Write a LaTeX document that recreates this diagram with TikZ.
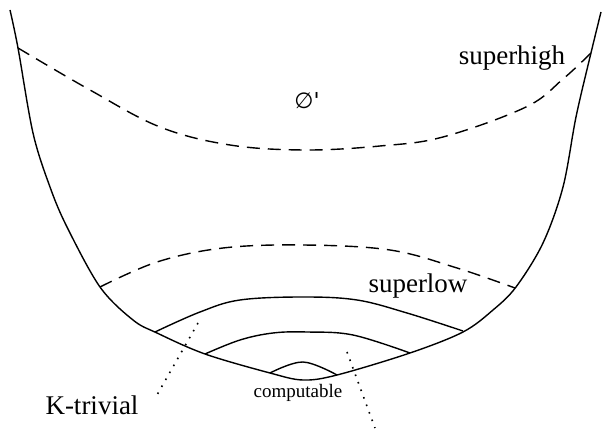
\documentclass[tikz,border=0pt]{standalone}
\usepackage{fontspec}
\setmainfont{Liberation Serif}
\newfontfamily\timesfont{Liberation Serif}
\newfontfamily\symfont{DejaVu Sans}
\begin{document}
\begin{tikzpicture}[x=1pt,y=-1pt,
  outline/.style={line width=1.4pt, line join=round},
  dashline/.style={line width=1.4pt, dash pattern=on 13pt off 8pt},
  dotline/.style={line width=1.6pt, dash pattern=on 1.6pt off 6.4pt},
  biglabel/.style={font=\timesfont\fontsize{27}{30}\selectfont, inner sep=0pt, anchor=base},
  smalllabel/.style={font=\timesfont\fontsize{19}{22}\selectfont, inner sep=0pt, anchor=base}]
\useasboundingbox (0,0) rectangle (603,430);
% outer curve
\draw[outline] plot[smooth, tension=0.55] coordinates {(10,10) (18,48) (33,133) (50,187) (67,227) (100,287) (133,320) (157,333) (205,354) (270,373) (303,380) (337,375) (410,353) (463,332) (493,310) (516,287) (543,243) (563,187) (576,117) (590,57) (601,12)};
% upper dashed (superhigh)
\draw[dashline] plot[smooth, tension=0.6] coordinates {(18,48) (90,90) (160,127) (230,145) (305,150) (380,146) (443,137) (526,107) (563,79) (591,53)};
% lower dashed (superlow)
\draw[dashline] plot[smooth, tension=0.6] coordinates {(100,287) (157,262) (223,248) (303,245) (390,250) (457,268) (515,288)};
% K-trivial arc
\draw[outline] plot[smooth, tension=0.6] coordinates {(155,332) (200,312) (240,300) (303,297) (357,300) (407,313) (463,331)};
% inner arc
\draw[outline] plot[smooth, tension=0.6] coordinates {(205,354) (240,340) (273,333) (307,332) (353,335) (410,353)};
% computable bump
\draw[outline] plot[smooth, tension=0.6] coordinates {(270,373) (303,362) (337,375)};
% dotted pointers
\coordinate (k1) at (198,323);
\coordinate (k2) at (157,395);
\coordinate (c1) at (347,352);
\coordinate (c2) at (375,428);
\draw[dotline] (k1) -- (k2);
\draw[dotline] (c1) -- (c2);
% labels
\node[biglabel] (sh) at (512,65) {superhigh};
\node[biglabel] (sl) at (418,293) {superlow};
\node[biglabel] (kt) at (92,415) {K-trivial};
\node[smalllabel] (cp) at (298,398) {computable};
\node[font=\symfont\fontsize{22}{24}\selectfont, inner sep=0pt, anchor=base] (zj) at (307,109) {∅'};
\end{tikzpicture}
\end{document}
